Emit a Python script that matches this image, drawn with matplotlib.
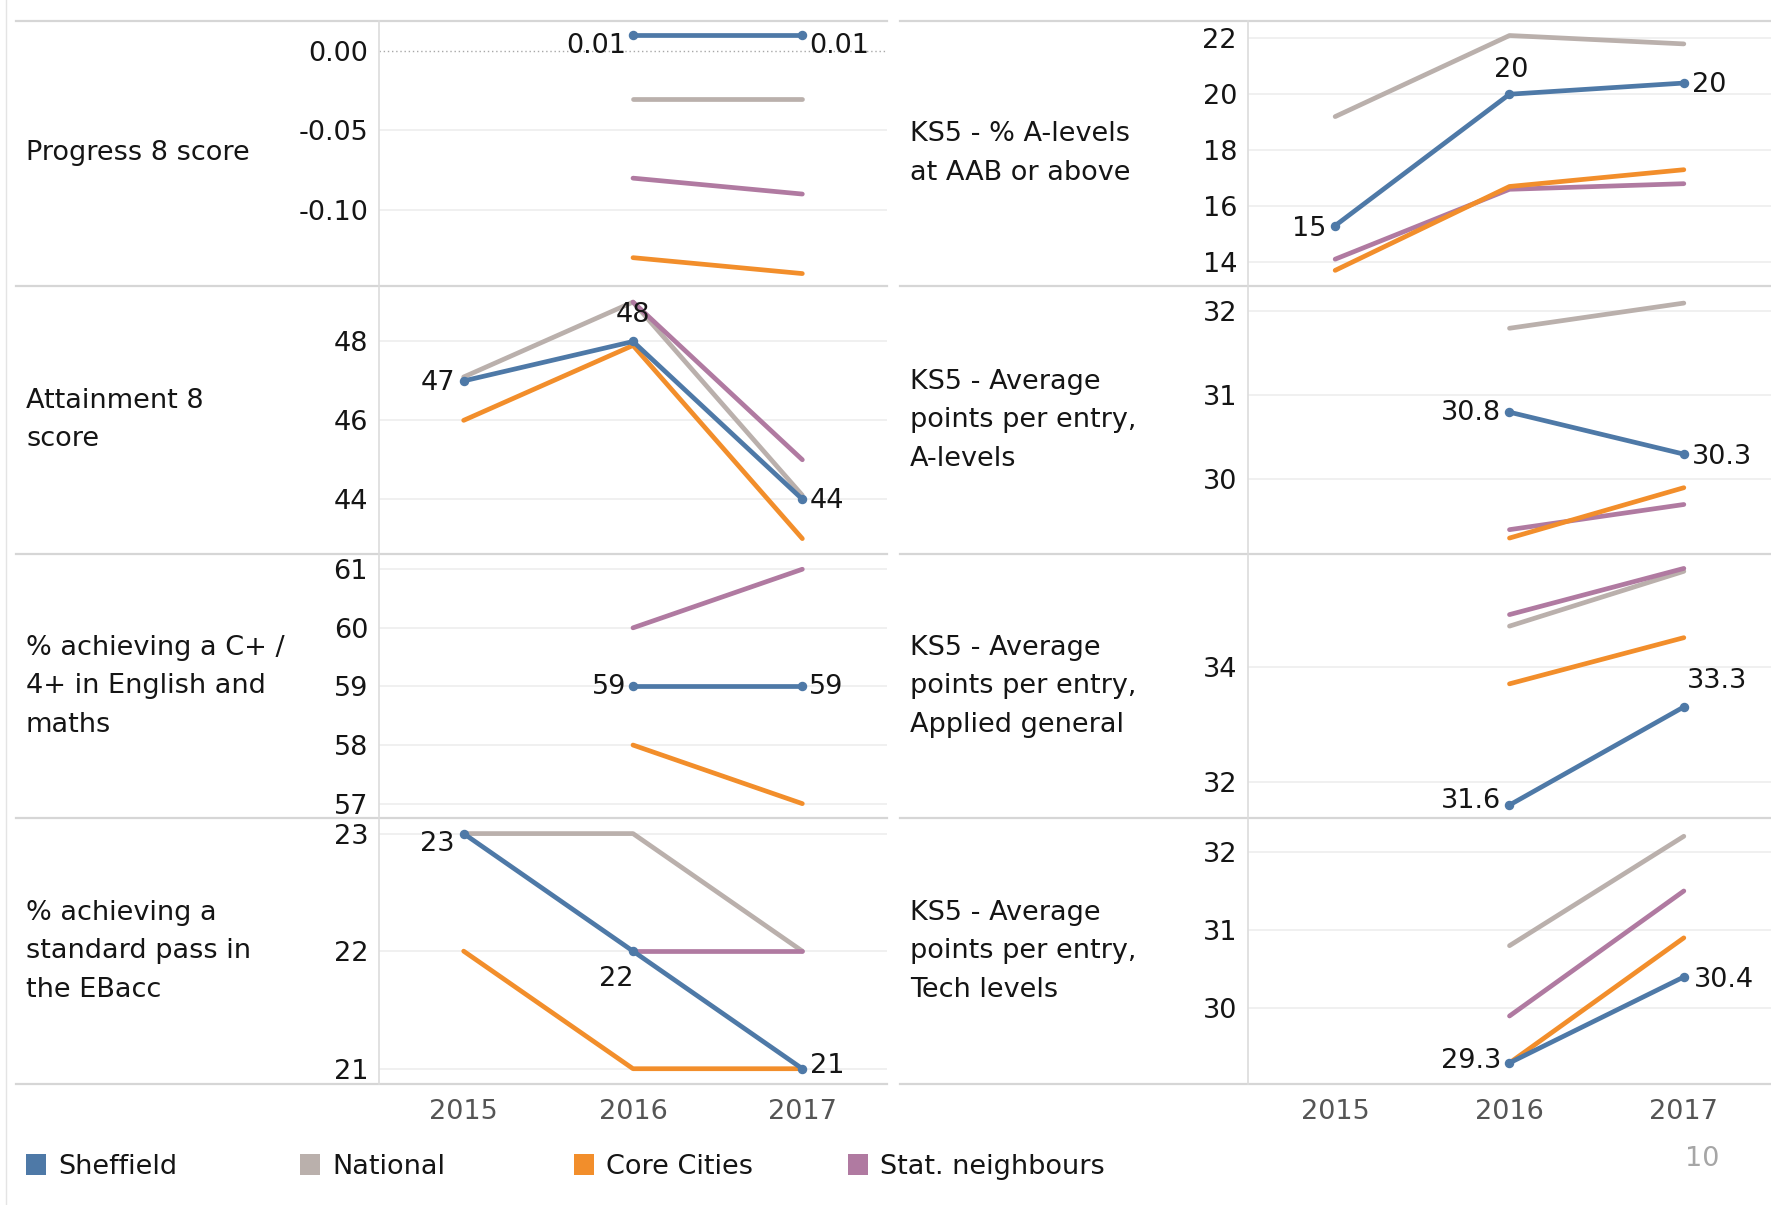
import numpy as np
import matplotlib
matplotlib.use("Agg")
import matplotlib.pyplot as plt
from matplotlib.lines import Line2D
from matplotlib.patches import Rectangle
from matplotlib.transforms import blended_transform_factory

plt.rcParams['font.family'] = ['DejaVu Sans']

nan = np.nan
years = [2015, 2016, 2017]
series = ['National', 'Stat. neighbours', 'Core Cities', 'Sheffield']
legend_order = ['Sheffield', 'National', 'Core Cities', 'Stat. neighbours']
colors = {'Sheffield': '#4e79a7', 'National': '#bab0ac',
          'Core Cities': '#f28e2b', 'Stat. neighbours': '#b07aa1'}

# ---- values per measure -------------------------------------------------
progress8 = {'Sheffield': [nan, 0.01, 0.01], 'National': [nan, -0.03, -0.03],
             'Core Cities': [nan, -0.13, -0.14], 'Stat. neighbours': [nan, -0.08, -0.09]}
attainment8 = {'Sheffield': [47, 48, 44], 'National': [47.1, 49.0, 44.1],
               'Core Cities': [46.0, 47.9, 43.0], 'Stat. neighbours': [nan, 49.0, 45.0]}
eng_maths = {'Sheffield': [nan, 59, 59], 'National': [nan, nan, nan],
             'Core Cities': [nan, 58.0, 57.0], 'Stat. neighbours': [nan, 60.0, 61.0]}
ebacc = {'Sheffield': [23, 22, 21], 'National': [23, 23, 22],
         'Core Cities': [22, 21, 21], 'Stat. neighbours': [nan, 22, 22]}
aab = {'Sheffield': [15.3, 20.0, 20.4], 'National': [19.2, 22.1, 21.8],
       'Core Cities': [13.7, 16.7, 17.3], 'Stat. neighbours': [14.1, 16.6, 16.8]}
aps_alevel = {'Sheffield': [nan, 30.8, 30.3], 'National': [nan, 31.8, 32.1],
              'Core Cities': [nan, 29.3, 29.9], 'Stat. neighbours': [nan, 29.4, 29.7]}
aps_applied = {'Sheffield': [nan, 31.6, 33.3], 'National': [nan, 34.7, 35.65],
               'Core Cities': [nan, 33.7, 34.5], 'Stat. neighbours': [nan, 34.9, 35.7]}
aps_tech = {'Sheffield': [nan, 29.3, 30.4], 'National': [nan, 30.8, 32.2],
            'Core Cities': [nan, 29.3, 30.9], 'Stat. neighbours': [nan, 29.9, 31.5]}

row_titles_left = ['Progress 8 score', 'Attainment 8\nscore',
                   '% achieving a C+ /\n4+ in English and\nmaths',
                   '% achieving a\nstandard pass in\nthe EBacc']
row_titles_right = ['KS5 - % A-levels\nat AAB or above',
                    'KS5 - Average\npoints per entry,\nA-levels',
                    'KS5 - Average\npoints per entry,\nApplied general',
                    'KS5 - Average\npoints per entry,\nTech levels']

yticks_left = [[0.0, -0.05, -0.10], [44, 46, 48], [57, 58, 59, 60, 61], [21, 22, 23]]
ytick_labels_left = [['0.00', '-0.05', '-0.10'], ['44', '46', '48'],
                     ['57', '58', '59', '60', '61'], ['21', '22', '23']]
yticks_right = [[14, 16, 18, 20, 22], [30, 31, 32], [32, 34], [30, 31, 32]]
ytick_labels_right = [['14', '16', '18', '20', '22'], ['30', '31', '32'],
                      ['32', '34'], ['30', '31', '32']]

# ---- layout (pixels) ----------------------------------------------------
W, H, DPI = 1771, 1205, 100
FS = 19.5
TXT = '#151515'
BORDER = '#d6d6d6'

def frac_rect(x0, y0, x1, y1):
    return [x0 / W, 1 - y1 / H, (x1 - x0) / W, (y1 - y0) / H]

row_edges = [20.7, 286.3, 554.0, 818.3, 1084.0]
col_left = dict(label_x=26, ax_x0=379, ax_x1=887, line_x0=16, line_x1=887)
col_right = dict(label_x=910, ax_x0=1248, ax_x1=1771, line_x0=900, line_x1=1771)

panels = [
    (col_left, 0, progress8, (-0.148, 0.019), '{:.2f}',
     [(1, 'left', -7, -11), (2, 'right', 7, -11)]),
    (col_left, 1, attainment8, (42.61, 49.4), '{:.0f}',
     [(0, 'left', -8, -2), (1, 'center', 0, 26), (2, 'right', 7, -2)]),
    (col_left, 2, eng_maths, (56.75, 61.26), '{:.0f}',
     [(1, 'left', -7, -1), (2, 'right', 7, -1)]),
    (col_left, 3, ebacc, (20.87, 23.13), '{:.0f}',
     [(0, 'left', -9, -10), (1, 'center', -17, -28), (2, 'right', 8, 3)]),
    (col_right, 0, aab, (13.13, 22.63), '{:.0f}',
     [(0, 'left', -9, -3), (1, 'center', 2, 24), (2, 'right', 8, -2)]),
    (col_right, 1, aps_alevel, (29.11, 32.3), '{:.1f}',
     [(1, 'left', -8, -1), (2, 'right', 8, -3)]),
    (col_right, 2, aps_applied, (31.37, 35.95), '{:.1f}',
     [(1, 'left', -8, 4), (2, 'right', 3, 26)]),
    (col_right, 3, aps_tech, (29.03, 32.43), '{:.1f}',
     [(1, 'left', -8, 2), (2, 'right', 10, -3)]),
]

fig = plt.figure(figsize=(W / DPI, H / DPI), dpi=DPI)
fig.patch.set_facecolor('white')

px = 72.0 / DPI  # pixels -> points

for k, (col, r, data, ylim, fmt, labels) in enumerate(panels):
    y0, y1 = row_edges[r], row_edges[r + 1]
    ax = fig.add_axes(frac_rect(col['ax_x0'], y0, col['ax_x1'], y1))
    ax.set_facecolor('none')
    ax.set_xlim(2014.5, 2017.5)
    ax.set_ylim(*ylim)
    for s in ax.spines.values():
        s.set_visible(False)
    if col is col_left:
        ticks, tlabels = yticks_left[r], ytick_labels_left[r]
    else:
        ticks, tlabels = yticks_right[r], ytick_labels_right[r]
    ax.set_yticks(ticks)
    ax.set_yticklabels(tlabels, fontsize=FS, color=TXT)
    ax.tick_params(axis='y', length=0, pad=11 * px)
    ax.set_xticks([])
    for t in ticks:
        if t == 0:
            ax.axhline(t, color='#a8a8a8', lw=1.0, ls=(0, (1, 2)), zorder=1)
        else:
            ax.axhline(t, color='#efefef', lw=1.3, zorder=1)

    for name in series:
        vals = np.array(data[name], dtype=float)
        if name == 'Sheffield':
            ax.plot(years, vals, color=colors[name], lw=3.4, marker='o',
                    ms=5.8, solid_capstyle='round', zorder=5, clip_on=False)
        else:
            ax.plot(years, vals, color=colors[name], lw=3.4,
                    solid_capstyle='round', zorder=3, clip_on=False)

    shef = data['Sheffield']
    for idx, side, dx, dy in labels:
        ha = {'left': 'right', 'right': 'left', 'center': 'center'}[side]
        ax.annotate(fmt.format(shef[idx]), (years[idx], shef[idx]),
                    xytext=(dx * px, dy * px), textcoords='offset points',
                    ha=ha, va='center', fontsize=FS, color=TXT, zorder=6)

    # row title
    fig.text(col['label_x'] / W, 1 - (y0 + y1) / 2 / H,
             (row_titles_left if col is col_left else row_titles_right)[r],
             ha='left', va='center', fontsize=FS, color=TXT, linespacing=1.62)

    # year labels under the bottom row
    if r == 3:
        tr = blended_transform_factory(ax.transData, fig.transFigure)
        for yr in years:
            ax.text(yr, 1 - 1111.7 / H, str(yr), transform=tr, ha='center',
                    va='center', fontsize=FS, color='#555555')

# pane borders
for col in (col_left, col_right):
    for y in row_edges:
        fig.add_artist(Line2D([col['line_x0'] / W, col['line_x1'] / W],
                              [1 - y / H, 1 - y / H], color=BORDER, lw=1.6,
                              transform=fig.transFigure))
    fig.add_artist(Line2D([col['ax_x0'] / W, col['ax_x0'] / W],
                          [1 - row_edges[0] / H, 1 - row_edges[-1] / H],
                          color='#dcdcdc', lw=1.2, transform=fig.transFigure))
fig.add_artist(Line2D([6 / W, 6 / W], [0, 1], color='#e4e4e4', lw=1.0,
                      transform=fig.transFigure))

# legend
leg_x = [26, 300, 574, 848]
for x, name in zip(leg_x, legend_order):
    fig.add_artist(Rectangle((x / W, 1 - 1175 / H), 20 / W, 21 / H,
                             facecolor=colors[name], edgecolor='none',
                             transform=fig.transFigure))
    fig.text((x + 32) / W, 1 - 1167 / H, name, ha='left', va='center',
             fontsize=FS, color=TXT)

# page number
fig.text(1702 / W, 1 - 1159 / H, '10', ha='center', va='center',
         fontsize=FS, color='#a6a6a6')

fig.savefig('out.png', dpi=DPI, facecolor='white')
